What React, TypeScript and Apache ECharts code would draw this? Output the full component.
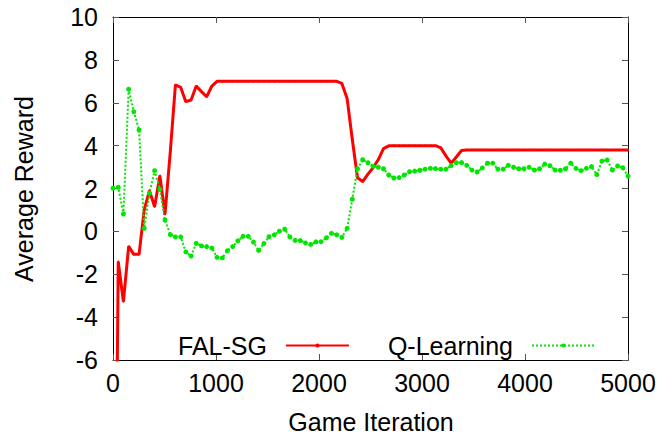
import React, { useEffect, useRef } from "react";
import * as echarts from "echarts";

const iterations = [
  0, 51, 101, 152, 202, 253, 303, 354, 404, 455, 505, 556, 606, 657, 707, 758, 808, 859, 909, 960,
  1010, 1061, 1111, 1162, 1212, 1263, 1313, 1364, 1414, 1465, 1515, 1566, 1616, 1667, 1717, 1768, 1818, 1869, 1919, 1970,
  2020, 2071, 2121, 2172, 2222, 2273, 2323, 2374, 2424, 2475, 2525, 2576, 2626, 2677, 2727, 2778, 2828, 2879, 2929, 2980,
  3030, 3081, 3131, 3182, 3232, 3283, 3333, 3384, 3434, 3485, 3535, 3586, 3636, 3687, 3737, 3788, 3838, 3889, 3939, 3990,
  4040, 4091, 4141, 4192, 4242, 4293, 4343, 4394, 4444, 4495, 4545, 4596, 4646, 4697, 4747, 4798, 4848, 4899, 4949, 5000,
];

const falSG = [
  -28, -1.41, -3.28, -0.7, -1.07, -1.07, 1.0, 1.9, 1.15, 2.6,
  0.8, 3.7, 6.83, 6.72, 6.05, 6.13, 6.78, 6.52, 6.28, 6.78,
  7, 7, 7, 7, 7, 7, 7, 7, 7, 7,
  7, 7, 7, 7, 7, 7, 7, 7, 7, 7,
  7, 7, 7, 7, 6.9, 6.2, 4.3, 2.5, 2.32, 2.67,
  2.97, 3.35, 3.86, 3.99, 4, 4, 4, 4, 4, 4,
  4, 4, 4, 3.9, 3.52, 3.18, 3.47, 3.77, 3.8, 3.8,
  3.8, 3.8, 3.8, 3.8, 3.8, 3.8, 3.8, 3.8, 3.8, 3.8,
  3.8, 3.8, 3.8, 3.8, 3.8, 3.8, 3.8, 3.8, 3.8, 3.8,
  3.8, 3.8, 3.8, 3.8, 3.8, 3.8, 3.8, 3.8, 3.8, 3.8,
];

const qLearning = [
  2.01, 2.06, 0.81, 6.63, 5.58, 4.73, 0.14, 1.78, 2.83, 1.96,
  0.53, -0.15, -0.26, -0.26, -0.96, -1.15, -0.56, -0.68, -0.71, -0.78,
  -1.21, -1.24, -0.9, -0.71, -0.44, -0.23, -0.23, -0.5, -0.89, -0.57,
  -0.25, -0.16, 0.01, 0.1, -0.26, -0.42, -0.43, -0.54, -0.61, -0.49,
  -0.48, -0.3, -0.09, -0.16, -0.28, 0.14, 1.5, 2.92, 3.34, 3.2,
  3.04, 2.99, 2.92, 2.63, 2.49, 2.51, 2.63, 2.78, 2.81, 2.85,
  2.9, 2.94, 2.93, 2.9, 2.9, 3.07, 3.2, 3.21, 3.08, 2.86,
  2.77, 2.96, 3.18, 3.18, 2.9, 2.9, 3.08, 2.99, 2.92, 2.92,
  2.99, 2.86, 2.92, 3.14, 3.06, 2.86, 2.85, 2.92, 3.18, 2.94,
  2.83, 2.94, 3.02, 2.65, 3.28, 3.33, 2.86, 3.05, 2.97, 2.58,
];

const seriesNames = ["FAL-SG", "Q-Learning"];
const xTitle = "Game Iteration";
const yTitle = "Average Reward";

const FONT = "'Liberation Sans', Arial, Helvetica, sans-serif";
const FS = 25;

export default function App() {
  const ref = useRef<HTMLDivElement>(null);
  useEffect(() => {
    if (!ref.current) return;
    const chart = echarts.init(ref.current, undefined, { renderer: "svg" });
    const pair = (ys: number[]) => iterations.map((x, i) => [x, ys[i]]);
    const axisLine = { show: true, onZero: false, lineStyle: { color: "#000", width: 1 } };
    const tick = { show: true, inside: true, length: 6, lineStyle: { color: "#555" } };
    chart.setOption({
      animation: false,
      backgroundColor: "#fff",
      grid: { left: 113, right: 44, top: 17, bottom: 76, containLabel: false },
      xAxis: [
        {
          type: "value", min: 0, max: 5000, interval: 1000, position: "bottom",
          axisLine, axisTick: tick, splitLine: { show: false },
          axisLabel: { color: "#000", fontSize: FS, fontFamily: FONT, margin: 10, formatter: (v: number) => String(v) },
        },
        {
          type: "value", min: 0, max: 5000, interval: 1000, position: "top",
          axisLine, axisTick: tick, splitLine: { show: false }, axisLabel: { show: false },
        },
      ],
      yAxis: [
        {
          type: "value", min: -6, max: 10, interval: 2, position: "left",
          axisLine, axisTick: tick, splitLine: { show: false },
          axisLabel: { color: "#000", fontSize: FS, fontFamily: FONT, margin: 15, formatter: (v: number) => String(v) },
        },
        {
          type: "value", min: -6, max: 10, interval: 2, position: "right",
          axisLine, axisTick: tick, splitLine: { show: false }, axisLabel: { show: false },
        },
      ],
      legend: {
        left: 173,
        top: 328,
        align: "right",
        itemWidth: 63,
        itemHeight: 5,
        itemGap: 38,
        textStyle: { fontSize: FS, fontFamily: FONT, color: "#000", padding: [0, 14, 0, 0] },
        data: seriesNames,
      },
      graphic: [
        {
          type: "text", x: 371, y: 422,
          style: { text: xTitle, fontSize: FS, fontFamily: FONT, fill: "#000", textAlign: "center", textVerticalAlign: "middle" },
        },
        {
          type: "text", x: 24, y: 189, rotation: Math.PI / 2,
          style: { text: yTitle, fontSize: FS, fontFamily: FONT, fill: "#000", textAlign: "center", textVerticalAlign: "middle" },
        },
      ],
      series: [
        {
          name: seriesNames[0], type: "line", data: pair(falSG), clip: true,
          symbol: "circle", symbolSize: 2, showSymbol: true,
          itemStyle: { color: "#ff0000" },
          lineStyle: { color: "#ff0000", width: 3 },
        },
        {
          name: seriesNames[1], type: "line", data: pair(qLearning), clip: true,
          symbol: "circle", symbolSize: 5, showSymbol: true,
          itemStyle: { color: "#00e600" },
          lineStyle: { color: "#00e600", width: 2, type: [2, 2] },
        },
      ],
    });
    return () => chart.dispose();
  }, []);
  return <div ref={ref} style={{ position: "fixed", left: 0, top: 0, width: 672, height: 436 }} />;
}
